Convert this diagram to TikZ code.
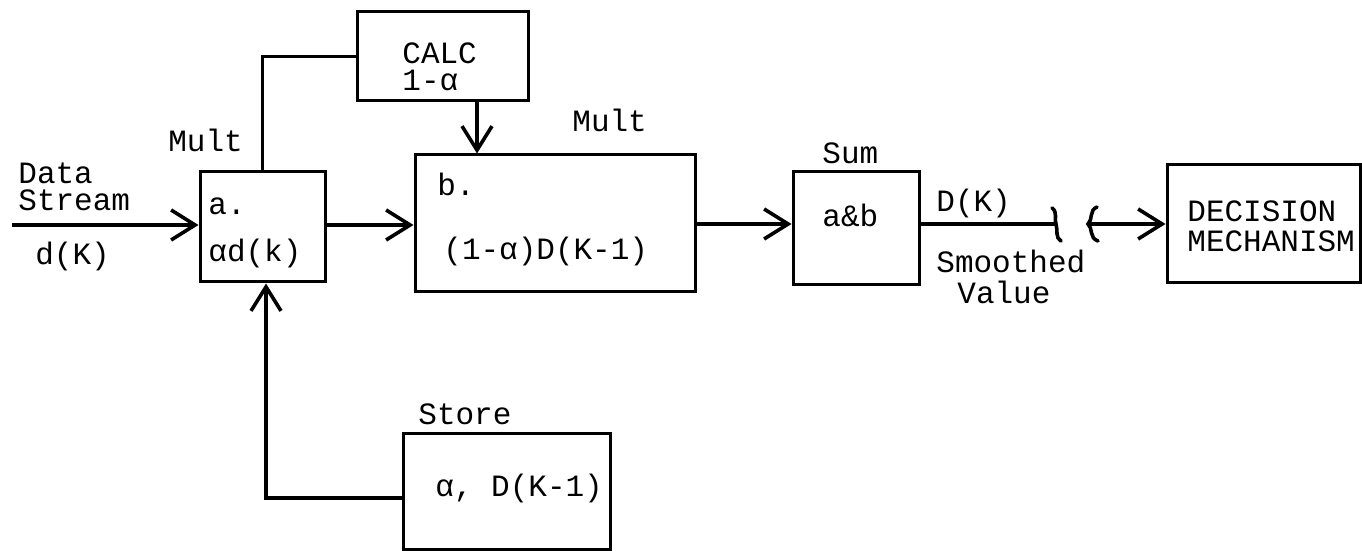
\documentclass[tikz,border=0pt]{standalone}
\usepackage{fontspec}
\setmonofont{Liberation Mono}
\usetikzlibrary{arrows.meta,positioning,calc}

\begin{document}
\begin{tikzpicture}[x=0.5pt, y=-0.5pt,
        blk/.style={draw, line width=1.5pt, inner sep=0pt},
        lbl/.style={font=\ttfamily\fontsize{15.5}{19}\selectfont, inner sep=0pt, anchor=base west},
        wire/.style={line width=1.8pt},
        arr/.style={wire, -{Straight Barb[length=12pt, width=15pt, line width=1.8pt]}}]
        \useasboundingbox (0,0) rectangle (1362,551);
        % blocks
        \node[blk, minimum width=62.5pt, minimum height=55pt] (ma) at (262.5,227) {};
        \node[blk, minimum width=85.5pt, minimum height=44.5pt] (calc) at (442.5,56.5) {};
        \node[blk, minimum width=140pt, minimum height=68.5pt] (mb) at (555,223.5) {};
        \node[blk, minimum width=63pt, minimum height=56.5pt] (sum) at (856,228.5) {};
        \node[blk, minimum width=96.5pt, minimum height=59pt] (dec) at (1263.5,224) {};
        \node[blk, minimum width=103.5pt, minimum height=58pt] (store) at (506.5,491) {};
        % texts
        \node[lbl] (lmulta) at (168,152) {Mult};
        \node[lbl] (ldata) at (18,184) {Data};
        \node[lbl] (lstream) at (18,211) {Stream};
        \node[lbl] (ldk) at (35,264) {d(K)};
        \node[lbl] (la) at (208,214) {a.};
        \node[lbl] (lad) at (208,262) {αd(k)};
        \node[lbl] (lcalc) at (402,64) {CALC};
        \node[lbl] (lone) at (402,91) {1-α};
        \node[lbl] (lmultb) at (572,132) {Mult};
        \node[lbl] (lb) at (437,196) {b.};
        \node[lbl] (lprod) at (443,259) {(1-α)D(K-1)};
        \node[lbl] (lsum) at (822,164) {Sum};
        \node[lbl] (lab) at (822,227) {a\&b};
        \node[lbl] (lDK) at (936,212) {D(K)};
        \node[lbl] (lsmooth) at (936,272) {Smoothed};
        \node[lbl] (lvalue) at (957,304) {Value};
        \node[lbl] (ldec) at (1187,221) {DECISION};
        \node[lbl] (lmech) at (1187,252) {MECHANISM};
        \node[lbl] (lstore) at (418,424) {Store};
        \node[lbl] (lmem) at (435,496) {α, D(K-1)};
        % connectors
        \coordinate (bus) at (0,224);
        \coordinate (src) at (12,225);
        \coordinate (fb) at (477,0);
        \coordinate (brka) at (1056,224);
        \coordinate (brkb) at (1090,224);
        \draw[arr] (src) -- (src -| ma.west);
        \draw[arr] (ma.east |- src) -- (mb.west |- src);
        \draw[wire] (calc.west) -| (ma.north);
        \draw[arr] (calc.south -| fb) -- (mb.north -| fb);
        \draw[arr] ($(store.west)+(0,7)$) -| ([xshift=1.75pt]ma.south);
        \draw[arr] (mb.east |- bus) -- (sum.west |- bus);
        \draw[wire] (sum.east |- bus) -- (brka);
        % break in the line
        \draw[wire, line cap=round] (brka) ++(-4,-16) .. controls +(6,4) and +(-2,-4) .. ++(4,16)
                    .. controls +(2,6) and +(-6,-3) .. ++(5,17);
        \draw[wire, line cap=round] (brkb) ++(7,-17) .. controls +(-8,3) and +(5,-4) .. ++(-9,17)
                    .. controls +(5,4) and +(-9,-3) .. ++(10,17);
        \draw[arr] (brkb) -- (dec.west |- bus);
\end{tikzpicture}
\end{document}
